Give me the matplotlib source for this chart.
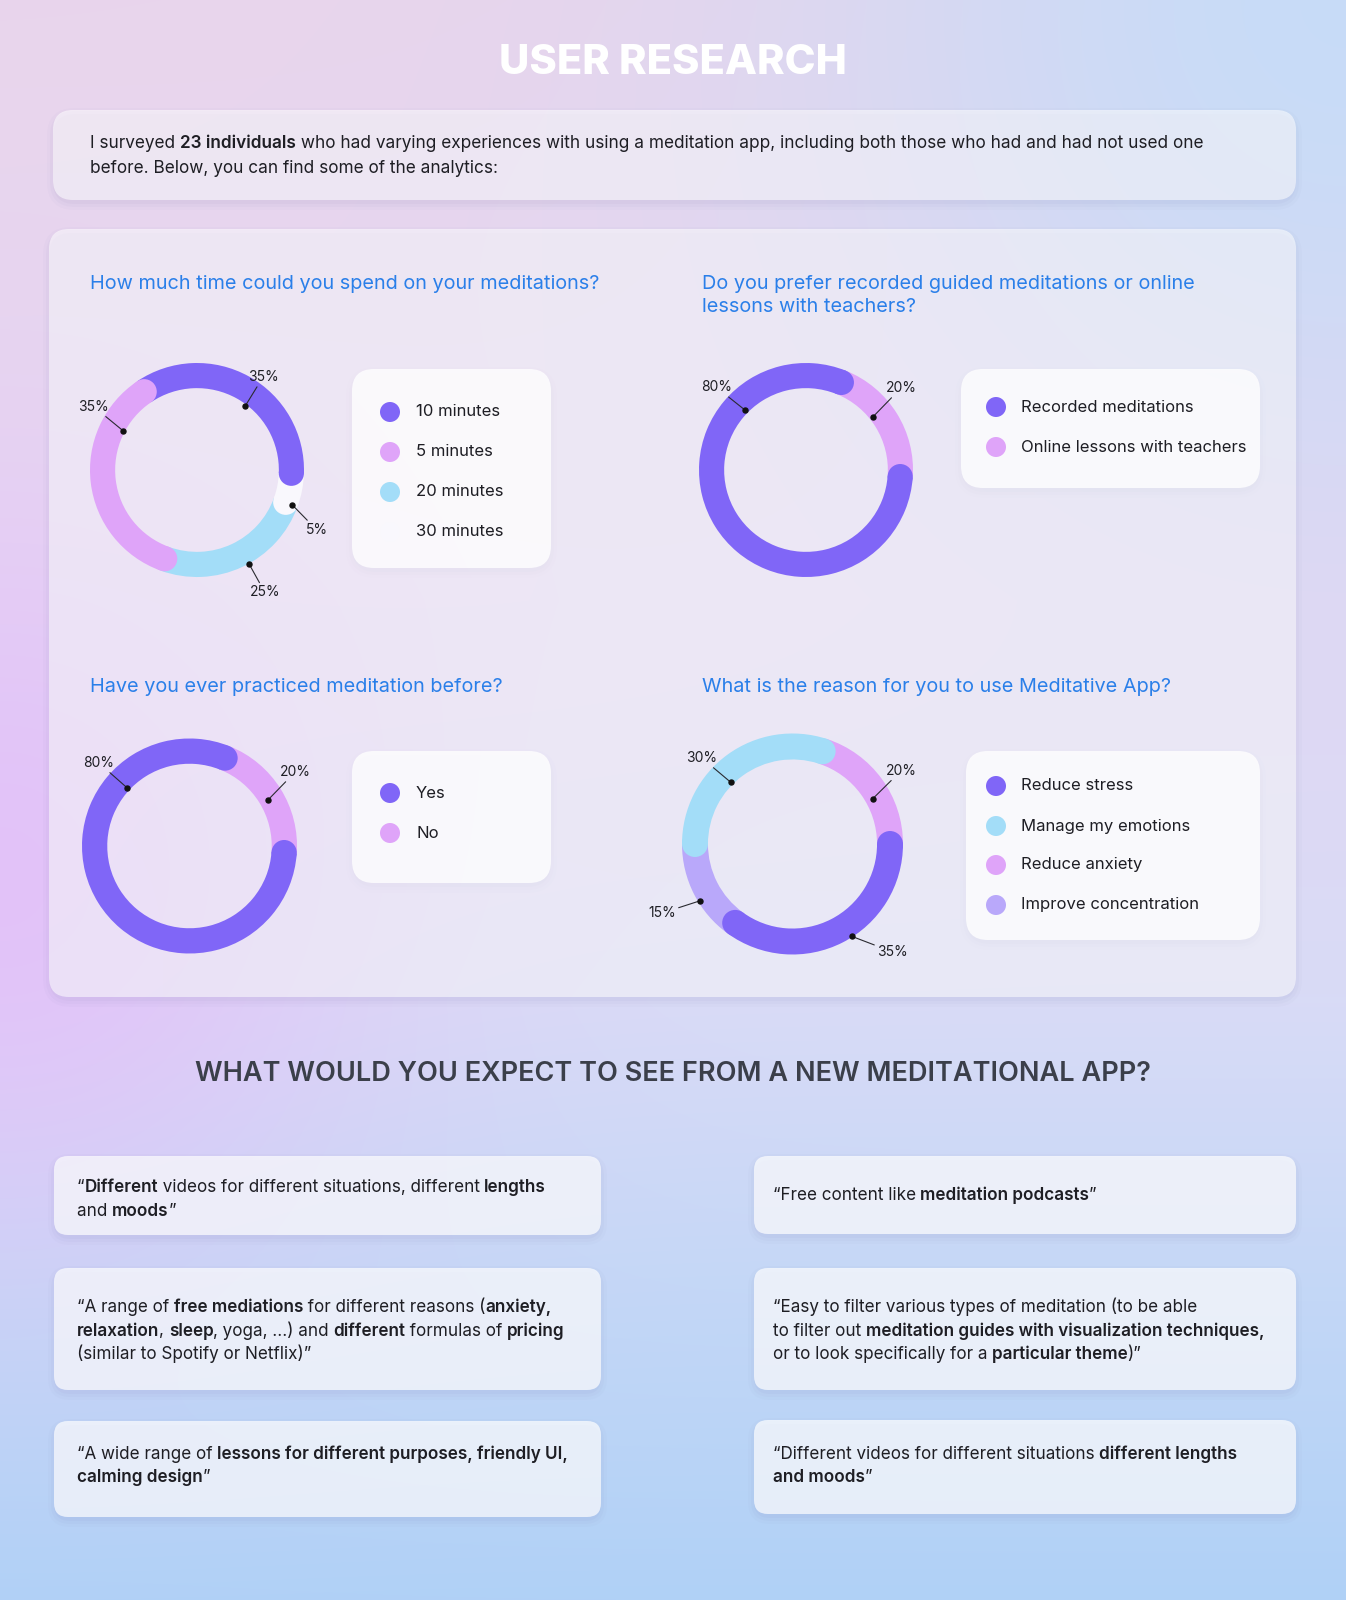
import numpy as np
import matplotlib.pyplot as plt
from matplotlib.patches import FancyBboxPatch, Circle
from matplotlib.colors import to_rgb
from matplotlib.textpath import TextPath
from matplotlib.font_manager import FontProperties

plt.rcParams['font.family'] = ['Inter', 'DejaVu Sans']

W, H = 1346, 1600

# ---- data ----
time_labels = ['10 minutes', '5 minutes', '20 minutes', '30 minutes']
time_values = [35, 35, 25, 5]
guided_labels = ['Recorded meditations', 'Online lessons with teachers']
guided_values = [80, 20]
practiced_labels = ['Yes', 'No']
practiced_values = [80, 20]
reason_labels = ['Reduce stress', 'Manage my emotions', 'Reduce anxiety', 'Improve concentration']
reason_values = [35, 30, 20, 15]

intro_lines = [
    'I surveyed **23 individuals** who had varying experiences with using a meditation app, including both those who had and had not used one',
    'before. Below, you can find some of the analytics:',
]
quotes_left = [
    ['\u201c**Different** videos for different situations, different **lengths**', 'and **moods**\u201d'],
    ['\u201cA range of **free mediations** for different reasons (**anxiety,**',
     '**relaxation**, **sleep**, yoga, ...) and **different** formulas of **pricing**',
     '(similar to Spotify or Netflix)\u201d'],
    ['\u201cA wide range of **lessons for different purposes, friendly UI,**', '**calming design**\u201d'],
]
quotes_right = [
    ['\u201cFree content like **meditation podcasts**\u201d'],
    ['\u201cEasy to filter various types of meditation (to be able',
     'to filter out **meditation guides with visualization techniques,**',
     'or to look specifically for a **particular theme**)\u201d'],
    ['\u201cDifferent videos for different situations **different lengths**', '**and moods**\u201d'],
]

PURPLE = '#8066F7'
PINK = '#DFA4F9'
BLUE = '#A3DDF8'
LAVENDER = '#B9A8FA'
WHITE = '#F9F8FD'
TITLE_BLUE = '#2A7FE9'
TXT = '#1E1E24'

fig = plt.figure(figsize=(W / 100, H / 100), dpi=100)
bg = fig.add_axes([0, 0, 1, 1])
bg.set_xlim(0, W)
bg.set_ylim(H, 0)
bg.axis('off')

# background gradient
yy, xx = np.mgrid[0:H, 0:W]
stops_y = [0, 600, 1000, 1300, 1600]
stops_c = [to_rgb(c) for c in ['#E9D5EC', '#E6D7F2', '#D9DBF6', '#C3D7F6', '#B0D1F6']]
img = np.zeros((H, W, 3))
for ch in range(3):
    img[..., ch] = np.interp(yy, stops_y, [c[ch] for c in stops_c])
for (bx, by, col, sig, k) in [(1346, 0, '#C6DCF8', 380, 0.95), (0, 880, '#E3C0F9', 260, 0.9)]:
    w = k * np.exp(-((xx - bx) ** 2 + (yy - by) ** 2) / (2 * sig ** 2))
    img = img * (1 - w[..., None]) + np.array(to_rgb(col)) * w[..., None]
bg.imshow(img, extent=(0, W, H, 0), zorder=0, aspect='auto')


def card(x0, y0, x1, y1, alpha, r=18, shadow=True):
    if shadow:
        for i, a in enumerate([0.05, 0.04, 0.03]):
            p = i * 3 + 2
            bg.add_patch(FancyBboxPatch((x0 - p + 2, y0 - p + 6), x1 - x0 + 2 * p - 4, y1 - y0 + 2 * p - 4,
                                        boxstyle=f'round,pad=0,rounding_size={r + p}',
                                        fc='#7C7FB0', ec='none', alpha=a, zorder=1))
    bg.add_patch(FancyBboxPatch((x0, y0), x1 - x0, y1 - y0, boxstyle=f'round,pad=0,rounding_size={r}',
                                fc='white', ec='none', alpha=alpha, zorder=2))


def advance(s, size, weight):
    # advance width of s in pixels, from the glyph outlines
    prop = FontProperties(family=['Inter', 'DejaVu Sans'], weight=weight)
    a = TextPath((0, 0), 'x' + s + 'x', size=size, prop=prop).get_extents().width
    b = TextPath((0, 0), 'xx', size=size, prop=prop).get_extents().width
    return (a - b) * 100 / 72


def rich_line(x, y, line, size, color=TXT):
    # runs between ** are bold
    parts = line.split('**')
    for j, part in enumerate(parts):
        if not part:
            continue
        weight = 'semibold' if j % 2 else 'normal'
        bg.text(x, y, part, ha='left', va='baseline', color=color, zorder=6,
                fontsize=size, fontweight=weight)
        x += advance(part, size, weight)


# title
bg.text(W / 2, 63, 'USER RESEARCH', ha='center', va='center', fontsize=30, fontweight='heavy',
        color='white', zorder=6)

# intro card
card(53, 110, 1296, 200, 0.55, r=20)
for i, line in enumerate(intro_lines):
    rich_line(90, 148 + i * 25, line, 12.4)

# main panel
card(49, 229, 1296, 997, 0.55, r=20)

TS = 14.3
bg.text(90, 284, 'How much time could you spend on your meditations?', ha='left', va='center',
        fontsize=TS, color=TITLE_BLUE, zorder=6)
bg.text(702, 284, 'Do you prefer recorded guided meditations or online', ha='left',
        va='center', fontsize=TS, color=TITLE_BLUE, zorder=6)
bg.text(702, 307, 'lessons with teachers?', ha='left',
        va='center', fontsize=TS, color=TITLE_BLUE, zorder=6)
bg.text(90, 687, 'Have you ever practiced meditation before?', ha='left', va='center',
        fontsize=TS, color=TITLE_BLUE, zorder=6)
bg.text(702, 687, 'What is the reason for you to use Meditative App?', ha='left', va='center',
        fontsize=TS, color=TITLE_BLUE, zorder=6)

RING = 0.235


def donut(cx, cy, R, values, colors, order, start, caps, label_pos):
    L = 1.6
    ax = fig.add_axes([(cx - L * R) / W, 1 - (cy + L * R) / H, 2 * L * R / W, 2 * L * R / H])
    vals = [values[i] for i in order]
    cols = [colors[i] for i in order]
    wedges, _ = ax.pie(vals, colors=cols, startangle=start, counterclock=True, radius=1,
                       wedgeprops=dict(width=RING, linewidth=0))
    ax.set_xlim(-L, L)
    ax.set_ylim(-L, L)
    ax.axis('off')
    rm = 1 - RING / 2
    for k, end in caps:
        w = wedges[order.index(k)]
        th = np.radians(w.theta1 if end == 0 else w.theta2)
        ax.add_patch(Circle((rm * np.cos(th), rm * np.sin(th)), RING / 2, fc=w.get_facecolor(),
                            lw=0, zorder=3))
    for i, v in enumerate(values):
        da, dr, ta, tr = label_pos[i]
        dx, dy = dr / R * np.cos(np.radians(da)), dr / R * np.sin(np.radians(da))
        tx, ty = tr / R * np.cos(np.radians(ta)), tr / R * np.sin(np.radians(ta))
        ax.annotate(f'{v}%', xy=(dx, dy), xytext=(tx, ty), ha='center', va='center', fontsize=10,
                    color=TXT, zorder=6,
                    arrowprops=dict(arrowstyle='-', color='#2A2A30', lw=0.8, shrinkA=0, shrinkB=0))
        ax.plot(dx, dy, 'o', ms=3.6, color='#111111', zorder=7)


def legend_card(x0, y0, x1, y1, ys, labels, colors, dot_x, txt_x):
    card(x0, y0, x1, y1, 0.8, r=22)
    for y, lab, c in zip(ys, labels, colors):
        bg.add_patch(Circle((dot_x, y), 10, fc=c, ec='none', zorder=6))
        bg.text(txt_x, y, lab, ha='left', va='center', fontsize=12, color=TXT, zorder=6)


# chart 1: time
time_colors = [PURPLE, PINK, BLUE, WHITE]
donut(197, 470, 107, time_values, time_colors, [0, 1, 2, 3], -2,
      [(0, 0), (1, 0), (1, 1), (3, 0)],
      [(53, 80, 54.6, 114), (152, 84, 148.5, 121), (-61, 107, -61, 140), (-20, 101, -26.6, 134)])
legend_card(352, 369, 551, 568, [412, 452, 492, 532], time_labels, time_colors, 390, 416)

# chart 2: guided vs lessons
two_colors = [PURPLE, PINK]
donut(806, 470, 107, guided_values, two_colors, [0, 1], 68, [(0, 0), (0, 1)],
      [(135.5, 85.5, 137.3, 122), (38.4, 85, 40.8, 125.5)])
legend_card(961, 369, 1260, 488, [407, 447], guided_labels, two_colors, 996, 1021)

# chart 3: practiced before
donut(189.5, 846, 107.5, practiced_values, two_colors, [0, 1], 68, [(0, 0), (0, 1)],
      [(137, 85, 137.5, 123), (30.4, 91, 35, 129)])
legend_card(352, 751, 551, 883, [793, 833], practiced_labels, two_colors, 390, 416)

# chart 4: reason
reason_colors = [PURPLE, BLUE, PINK, LAVENDER]
donut(792.5, 844, 110.5, reason_values, reason_colors, [3, 0, 2, 1], 180,
      [(0, 0), (0, 1), (1, 0), (1, 1)],
      [(-57.2, 110, -47.2, 147), (135, 87, 136.5, 125), (29.4, 92, 34, 131), (211.5, 109, 207.9, 147.6)])
legend_card(966, 751, 1260, 940, [786, 826, 865, 905], reason_labels, reason_colors, 996, 1021)

# expectations section
bg.text(W / 2, 1074, 'WHAT WOULD YOU EXPECT TO SEE FROM A NEW MEDITATIONAL APP?', ha='center',
        va='center', fontsize=19.5, fontweight='semibold', color='#3B3F4A', zorder=6)

left_boxes = [(1156, 1235, 1192), (1268, 1390, 1312), (1421, 1517, 1459)]
right_boxes = [(1156, 1234, 1200), (1268, 1390, 1312), (1420, 1514, 1459)]
for (y0, y1, yb), q in zip(left_boxes, quotes_left):
    card(54, y0, 601, y1, 0.7, r=14)
    for i, line in enumerate(q):
        rich_line(77, yb + i * 23.5, line, 12.3)
for (y0, y1, yb), q in zip(right_boxes, quotes_right):
    card(754, y0, 1296, y1, 0.7, r=14)
    for i, line in enumerate(q):
        rich_line(773, yb + i * 23.5, line, 12.3)

fig.savefig('out.png', dpi=100)
